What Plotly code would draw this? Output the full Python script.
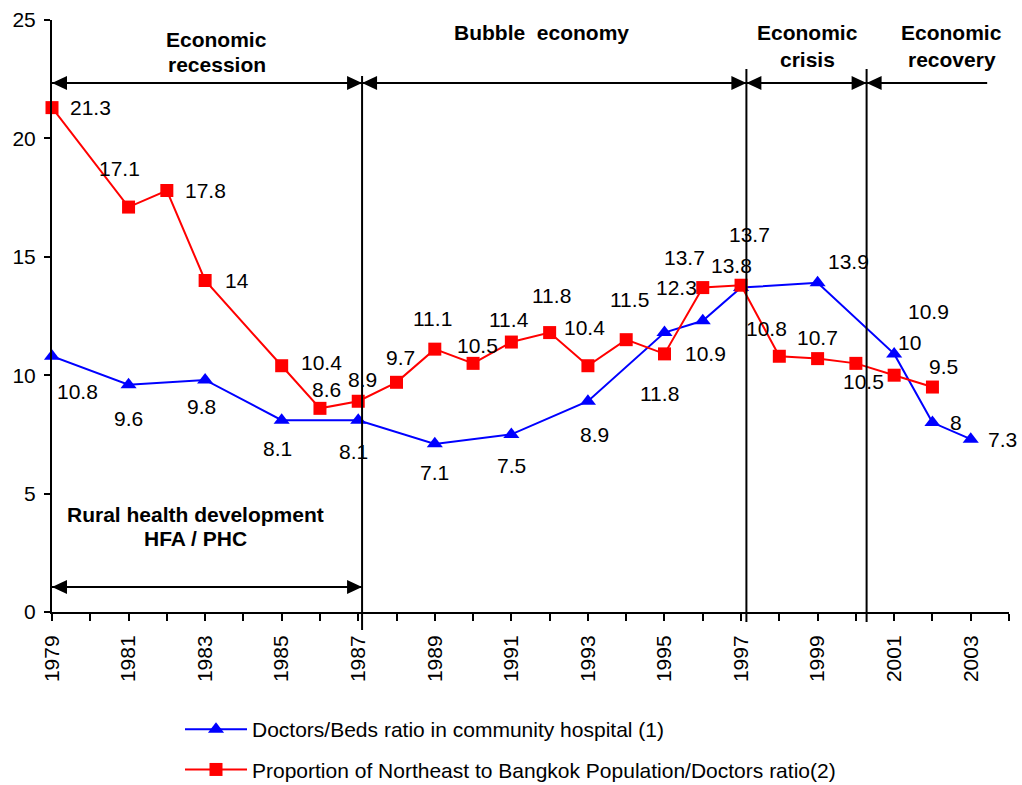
import plotly.graph_objects as go

# ---------------- data ----------------
beds_years = [1979, 1981, 1983, 1985, 1987, 1989, 1991, 1993, 1995, 1996, 1997, 1999, 2001, 2002, 2003]
beds_ratio = [10.8, 9.6, 9.8, 8.1, 8.1, 7.1, 7.5, 8.9, 11.8, 12.3, 13.7, 13.9, 10.9, 8, 7.3]

ne_years = [1979, 1981, 1982, 1983, 1985, 1986, 1987, 1988, 1989, 1990, 1991, 1992,
            1993, 1994, 1995, 1996, 1997, 1998, 1999, 2000, 2001, 2002]
ne_ratio = [21.3, 17.1, 17.8, 14, 10.4, 8.6, 8.9, 9.7, 11.1, 10.5, 11.4, 11.8,
            10.4, 11.5, 10.9, 13.7, 13.8, 10.8, 10.7, 10.5, 10, 9.5]

beds_name = "Doctors/Beds ratio in community hospital (1)"
ne_name = "Proportion of Northeast to Bangkok Population/Doctors ratio(2)"

x_tick_years = list(range(1979, 2004, 2))
y_tick_values = [0, 5, 10, 15, 20, 25]

# period boundaries (years) and their captions
era_bounds = [1979, 1987.1, 1997.14, 2000.28]
era_last_end = 2003.43
era_captions = [["Economic", "recession"], ["Bubble\u00a0 economy"],
                ["Economic", "crisis"], ["Economic", "recovery"]]
era_caption_x = [1983.3, 1991.8, 1998.73, 2002.5]
rural_caption = ["Rural health development", "HFA / PHC"]

# ---------------- label offsets (px) ----------------
beds_label_shift = [(25, 35), (0, 34), (-4, 27), (-4, 28), (-5, 31), (0, 29), (0, 31),
                    (7, 33), (-5, 61), (-26, -33), (8, -53), (31, -21), (34, -42),
                    (24, 0), (32, 0)]
ne_label_shift = [(38.5, 0), (-9, -39), (38.5, 0), (32, 0), (40, -3), (7, -19),
                  (4.5, -22), (4, -25), (-2, -31), (4, -18), (-2, -23), (2, -37),
                  (-3, -38), (3, -40), (41, 0), (-18, -30), (-9.5, -20), (-13, -28),
                  (0, -21.5), (7.5, 18), (15, -33), (11.5, -21)]

# ---------------- geometry ----------------
W, H = 1022, 785
ML, MR, MT, MB = 52, 13, 20, 173
X_RANGE = [1979, 2004]
Y_RANGE = [0, 25]
plot_w = W - ML - MR
plot_h = H - MT - MB
px_per_year = plot_w / (X_RANGE[1] - X_RANGE[0])
px_per_unit = plot_h / (Y_RANGE[1] - Y_RANGE[0])

FONT = "Arial, 'Liberation Sans', sans-serif"
FS = 21
BLUE = "#0000FF"
RED = "#FF0000"


def paper_y(py):
    """Convert a pixel row of the page to paper y."""
    return (H - MB - py) / plot_h


fig = go.Figure()

fig.add_trace(go.Scatter(
    x=beds_years, y=beds_ratio, name=beds_name, mode="lines+markers",
    line=dict(color=BLUE, width=2),
    marker=dict(symbol="triangle-up", size=14, color=BLUE),
    legendgroup="a", cliponaxis=False,
))
fig.add_trace(go.Scatter(
    x=ne_years, y=ne_ratio, name=ne_name, mode="lines+markers",
    line=dict(color=RED, width=2),
    marker=dict(symbol="square", size=13, color=RED),
    legendgroup="b", cliponaxis=False,
))

annotations = []
# value labels
for yrs, vals, shifts in ((beds_years, beds_ratio, beds_label_shift),
                          (ne_years, ne_ratio, ne_label_shift)):
    for xv, yv, (dx, dy) in zip(yrs, vals, shifts):
        annotations.append(dict(
            x=xv, y=yv, xref="x", yref="y", text=f"{yv:g}", showarrow=False,
            xanchor="center", yanchor="middle",
            xshift=dx, yshift=-dy, font=dict(family=FONT, size=FS, color="black"),
        ))

# period captions
caption_rows = [[40, 65], [33], [33, 59], [33, 59]]
for lines, cx, rows in zip(era_captions, era_caption_x, caption_rows):
    for txt, row in zip(lines, rows):
        annotations.append(dict(
            x=cx, y=paper_y(row), xref="x", yref="paper", text=f"<b>{txt}</b>",
            showarrow=False, xanchor="center", yanchor="middle",
            font=dict(family=FONT, size=FS, color="black"),
        ))
for txt, row in zip(rural_caption, [514, 538]):
    annotations.append(dict(
        x=1982.75, y=paper_y(row), xref="x", yref="paper", text=f"<b>{txt}</b>",
        showarrow=False, xanchor="center", yanchor="middle",
        font=dict(family=FONT, size=FS, color="black"),
    ))

# ---------------- period arrows and dividers ----------------
shapes = []
HEAD_LEN, HEAD_HALF = 15, 7
arrow_top = (H - MB - 83) / px_per_unit
arrow_bottom = (H - MB - 587) / px_per_unit


def arrow_line(x0, x1, y):
    shapes.append(dict(type="line", xref="x", yref="y", x0=x0, x1=x1, y0=y, y1=y,
                       line=dict(color="black", width=2)))


def arrow_head(x_tip, y, direction):
    dx = HEAD_LEN / px_per_year * direction
    dy = HEAD_HALF / px_per_unit
    path = f"M {x_tip} {y} L {x_tip - dx} {y + dy} L {x_tip - dx} {y - dy} Z"
    shapes.append(dict(type="path", xref="x", yref="y", path=path,
                       fillcolor="black", line=dict(color="black", width=0)))


spans = list(zip(era_bounds[:-1], era_bounds[1:]))
for x0, x1 in spans:
    arrow_line(x0, x1, arrow_top)
    arrow_head(x0, arrow_top, -1)
    arrow_head(x1, arrow_top, 1)
arrow_line(era_bounds[-1], era_last_end, arrow_top)
arrow_head(era_bounds[-1], arrow_top, -1)

arrow_line(era_bounds[0], era_bounds[1], arrow_bottom)
arrow_head(era_bounds[0], arrow_bottom, -1)
arrow_head(era_bounds[1], arrow_bottom, 1)

divider_rows = [(76, 630), (69, 622), (69, 622)]
for xb, (top, bot) in zip(era_bounds[1:], divider_rows):
    shapes.append(dict(type="line", xref="x", yref="paper", x0=xb, x1=xb,
                       y0=paper_y(bot), y1=paper_y(top),
                       line=dict(color="black", width=2)))

axis_font = dict(family=FONT, size=FS, color="black")

fig.update_layout(
    width=W, height=H,
    margin=dict(l=ML, r=MR, t=MT, b=MB, pad=0, autoexpand=False),
    paper_bgcolor="white", plot_bgcolor="white",
    showlegend=True,
    legend=dict(
        x=(180 - ML) / plot_w, y=paper_y(709), xanchor="left", yanchor="top",
        font=dict(family=FONT, size=FS, color="black"),
        traceorder="grouped", tracegroupgap=10, itemwidth=62,
        bgcolor="rgba(0,0,0,0)",
    ),
    xaxis=dict(
        range=X_RANGE, tickmode="array", tickvals=x_tick_years,
        ticktext=[str(v) for v in x_tick_years], tickangle=-90,
        ticks="outside", ticklen=7, tickwidth=2, tickcolor="black",
        minor=dict(tickmode="linear", tick0=1979, dtick=1, ticks="outside",
                   ticklen=7, tickwidth=2, tickcolor="black"),
        showline=True, linewidth=2, linecolor="black",
        showgrid=False, zeroline=False, tickfont=axis_font,
        ticklabelstandoff=6,
    ),
    xaxis2=dict(
        range=X_RANGE, overlaying="x", anchor="y", side="bottom",
        tickmode="linear", tick0=1979, dtick=1, ticks="inside", ticklen=6,
        tickwidth=2, tickcolor="black", showticklabels=False,
        showline=False, showgrid=False, zeroline=False,
    ),
    yaxis=dict(
        range=Y_RANGE, tickmode="array", tickvals=y_tick_values,
        ticks="outside", ticklen=6, tickwidth=2, tickcolor="black",
        showline=True, linewidth=2, linecolor="black",
        showgrid=False, zeroline=False, tickfont=axis_font,
        ticklabelstandoff=4,
    ),
    yaxis2=dict(
        range=Y_RANGE, overlaying="y", anchor="x", side="left",
        tickmode="array", tickvals=y_tick_values, ticks="inside", ticklen=6,
        tickwidth=2, tickcolor="black", showticklabels=False,
        showline=False, showgrid=False, zeroline=False,
    ),
    annotations=annotations,
    shapes=shapes,
)

fig.write_html("out.html")
